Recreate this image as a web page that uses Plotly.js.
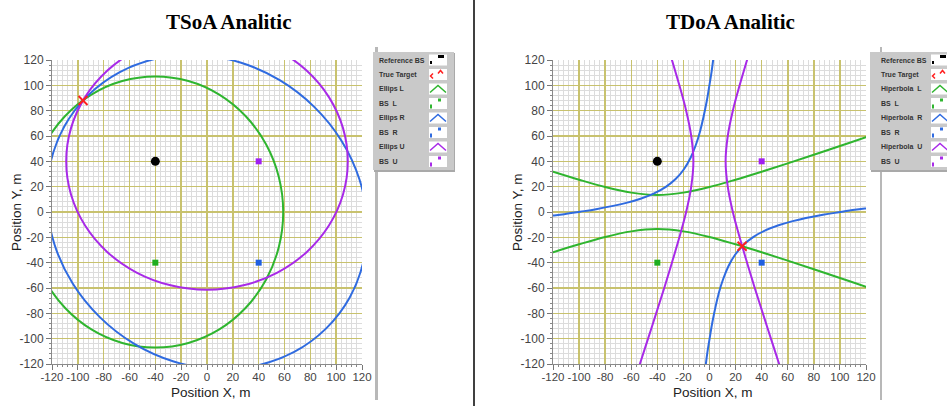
<!DOCTYPE html>
<html><head><meta charset="utf-8">
<script src="https://cdn.plot.ly/plotly-3.0.1.min.js"></script>
<style>html,body{margin:0;padding:0;background:#fff}#chart{width:947px;height:406px}</style>
</head><body><div id="chart"></div><script>
// ---------- data ----------
const tickVals = [-120,-100,-80,-60,-40,-20,0,20,40,60,80,100,120];
const tickText = tickVals.map(v => String(v));

// base stations
const refBS_x = [-40], refBS_y = [40];
const bsL_x = [-40],  bsL_y = [-40];
const bsR_x = [40],   bsR_y = [-40];
const bsU_x = [40],   bsU_y = [40];
// true targets
const tsoaTarget_x = [-96], tsoaTarget_y = [88];
const tdoaTarget_x = [25],  tdoaTarget_y = [-27];

// TSoA ellipses (points along each curve)
const ellipsL_x = [-139,-135.6,-125.7,-110,-89.5,-65.6,-40,-14.4,9.5,30,45.7,55.6,59,55.6,45.7,30,9.5,-14.4,-40,-65.6,-89.5,-110,-125.7,-135.6,-139];
const ellipsL_y = [0,-27.7,-53.5,-75.6,-92.7,-103.4,-107,-103.4,-92.7,-75.6,-53.5,-27.7,0,27.7,53.5,75.6,92.7,103.4,107,103.4,92.7,75.6,53.5,27.7,0];
const ellipsR_x = [123.9,118.0,104.1,83,56.3,25.8,-6.5,-38.3,-67.5,-92.1,-110.5,-121.3,-123.9,-118.0,-104.1,-83,-56.3,-25.8,6.5,38.3,67.5,92.1,110.5,121.3,123.9];
const ellipsR_y = [-6.5,25.8,56.3,83,104.1,118.0,123.9,121.3,110.5,92.1,67.5,38.3,6.5,-25.8,-56.3,-83,-104.1,-118.0,-123.9,-121.3,-110.5,-92.1,-67.5,-38.3,-6.5];
const ellipsU_x = [0,-28.2,-54.5,-77.1,-94.4,-105.3,-109,-105.3,-94.4,-77.1,-54.5,-28.2,0,28.2,54.5,77.1,94.4,105.3,109,105.3,94.4,77.1,54.5,28.2,0];
const ellipsU_y = [141.4,137.9,127.8,111.7,90.7,66.2,40,13.8,-10.7,-31.7,-47.8,-57.9,-61.4,-57.9,-47.8,-31.7,-10.7,13.8,40,66.2,90.7,111.7,127.8,137.9,141.4];

// TDoA hyperbolas (two branches each, split by null)
const hypL_x = [-130,-120,-100,-80,-60,-40,-20,0,20,40,60,80,100,120,130,null,-130,-120,-100,-80,-60,-40,-20,0,20,40,60,80,100,120,130];
const hypL_y = [35.1,31.8,25.5,19.7,15.3,13.5,15.3,19.7,25.5,31.8,38.4,45.2,52.1,59.1,62.6,null,-35.1,-31.8,-25.5,-19.7,-15.3,-13.5,-15.3,-19.7,-25.5,-31.8,-38.4,-45.2,-52.1,-59.1,-62.6];
const hypR_x = [-4.95,-3.3,-1.7,0.2,2.2,7.2,10.5,14.5,19.6,26.0,33.75,42.8,52.9,63.8,87.0,99.2,111.4,124.0,136.5,null,4.95,3.3,1.7,-0.2,-2.2,-7.2,-10.5,-14.5,-19.6,-26.0,-33.75,-42.8,-52.9,-63.8,-87.0,-99.2,-111.4,-124.0,-136.5];
const hypR_y = [-136.5,-124.0,-111.4,-99.2,-87.0,-63.8,-52.9,-42.8,-33.75,-26.0,-19.6,-14.5,-10.5,-7.2,-2.2,-0.2,1.7,3.3,4.95,null,136.5,124.0,111.4,99.2,87.0,63.8,52.9,42.8,33.75,26.0,19.6,14.5,10.5,7.2,2.2,0.2,-1.7,-3.3,-4.95];
const hypU_x = [31.7,28.8,23.1,17.9,14.0,12.35,14.0,17.9,23.1,28.8,34.7,40.9,47.1,53.4,56.5,null,-31.7,-28.8,-23.1,-17.9,-14.0,-12.35,-14.0,-17.9,-23.1,-28.8,-34.7,-40.9,-47.1,-53.4,-56.5];
const hypU_y = [130,120,100,80,60,40,20,0,-20,-40,-60,-80,-100,-120,-130,null,130,120,100,80,60,40,20,0,-20,-40,-60,-80,-100,-120,-130];

const legendLeft  = ['Reference BS','True Target','Ellips L','BS  L','Ellips R','BS  R','Ellips U','BS  U'];
const legendRight = ['Reference BS','True Target','Hiperbola  L','BS  L','Hiperbola  R','BS  R','Hiperbola  U','BS  U'];

// ---------- styling ----------
const W = 947, H = 406;
const GREEN = '#2fb52f', BLUE = '#2f6be0', PURPLE = '#a82ae8', RED = '#ff2020';
const X = px => px / W, Y = py => 1 - py / H;

function curve(xs, ys, color, xa, ya, name) {
  return {x: xs, y: ys, xaxis: xa, yaxis: ya, type: 'scatter', mode: 'lines', name,
    line: {color, width: 2, shape: 'spline', smoothing: 1}, connectgaps: false, hoverinfo: 'skip'};
}
function pts(xs, ys, color, symbol, size, xa, ya, name) {
  const m = {color, symbol, size};
  if (symbol.indexOf('thin') >= 0) m.line = {color, width: 2};
  return {x: xs, y: ys, xaxis: xa, yaxis: ya, type: 'scatter', mode: 'markers', name, marker: m, hoverinfo: 'skip'};
}

const traces = [
  curve(ellipsL_x, ellipsL_y, GREEN, 'x', 'y', 'Ellips L'),
  curve(ellipsR_x, ellipsR_y, BLUE, 'x', 'y', 'Ellips R'),
  curve(ellipsU_x, ellipsU_y, PURPLE, 'x', 'y', 'Ellips U'),
  pts(refBS_x, refBS_y, '#000', 'circle', 9, 'x', 'y', 'Reference BS'),
  pts(bsL_x, bsL_y, '#1fae1f', 'square', 6, 'x', 'y', 'BS L'),
  pts(bsR_x, bsR_y, '#1f5fe0', 'square', 6, 'x', 'y', 'BS R'),
  pts(bsU_x, bsU_y, '#a020f0', 'square', 6, 'x', 'y', 'BS U'),
  pts(tsoaTarget_x, tsoaTarget_y, RED, 'x-thin', 9, 'x', 'y', 'True Target'),

  curve(hypL_x, hypL_y, GREEN, 'x2', 'y2', 'Hiperbola L'),
  curve(hypR_x, hypR_y, BLUE, 'x2', 'y2', 'Hiperbola R'),
  curve(hypU_x, hypU_y, PURPLE, 'x2', 'y2', 'Hiperbola U'),
  pts(refBS_x, refBS_y, '#000', 'circle', 9, 'x2', 'y2', 'Reference BS'),
  pts(bsL_x, bsL_y, '#1fae1f', 'square', 6, 'x2', 'y2', 'BS L'),
  pts(bsR_x, bsR_y, '#1f5fe0', 'square', 6, 'x2', 'y2', 'BS R'),
  pts(bsU_x, bsU_y, '#a020f0', 'square', 6, 'x2', 'y2', 'BS U'),
  pts(tdoaTarget_x, tdoaTarget_y, RED, 'x-thin', 9, 'x2', 'y2', 'True Target')
];

function axis(domain, anchor, isX) {
  const a = {domain, anchor, range: [-120, 120], autorange: false, fixedrange: true,
    tickmode: 'array', tickvals: tickVals, ticktext: tickText, tickangle: 0,
    ticks: 'outside', ticklen: 5, tickcolor: '#777', tickwidth: 1,
    tickfont: {family: 'Liberation Sans, Arial, sans-serif', size: isX ? 11.5 : 12, color: '#444'},
    showgrid: true, gridcolor: 'rgb(200,194,110)', gridwidth: 1.5,
    zeroline: false, showline: true, linecolor: '#8a8a8a', linewidth: 1,
    minor: {dtick: 4, tick0: 0, ticks: 'outside', ticklen: 2, tickcolor: '#888',
            showgrid: true, gridcolor: '#dcdcdc', gridwidth: 1}};
  if (isX) a.ticklabelstandoff = -3;
  return a;
}

const yDom = [Y(364), Y(60)];
const layout = {
  width: W, height: H, margin: {l: 0, r: 0, t: 0, b: 0},
  paper_bgcolor: '#fff', plot_bgcolor: '#fff', showlegend: false,
  xaxis: axis([X(52), X(362)], 'y', true), yaxis: axis(yDom, 'x', false),
  xaxis2: axis([X(553), X(866)], 'y2', true), yaxis2: axis(yDom, 'x2', false),
  annotations: [], shapes: []
};

function ann(text, px, py, o) {
  layout.annotations.push(Object.assign({text, x: X(px), y: Y(py), xref: 'paper', yref: 'paper',
    showarrow: false, xanchor: 'center', yanchor: 'middle'}, o || {}));
}
function rect(x0, y0, x1, y1, fill, line) {
  layout.shapes.push({type: 'rect', xref: 'paper', yref: 'paper', x0: X(x0), x1: X(x1), y0: Y(y1), y1: Y(y0),
    fillcolor: fill, line: line ? {color: line, width: 1} : {width: 0}, layer: 'above'});
}
function path(points, color, width) {
  const d = points.map((p, i) => (i ? 'L' : 'M') + X(p[0]) + ',' + Y(p[1])).join(' ');
  layout.shapes.push({type: 'path', xref: 'paper', yref: 'paper', path: d, line: {color, width}, layer: 'above'});
}
function line(x0, y0, x1, y1, color, width) {
  layout.shapes.push({type: 'line', xref: 'paper', yref: 'paper', x0: X(x0), y0: Y(y0), x1: X(x1), y1: Y(y1),
    line: {color, width}, layer: 'above'});
}

// titles
const titleFont = {family: 'Liberation Serif, Times New Roman, serif', size: 21, color: '#000'};
ann('<b>TSoA Analitic</b>', 228, 22, {font: titleFont});
ann('<b>TDoA Analitic</b>', 730, 22, {font: titleFont});
// axis titles
const axFont = {family: 'Liberation Sans, Arial, sans-serif', size: 13.5, color: '#222'};
ann('Position X, m', 211, 392, {font: axFont});
ann('Position X, m', 713, 392, {font: axFont});
ann('Position Y, m', 16, 212, {font: axFont, textangle: -90});
ann('Position Y, m', 517, 212, {font: axFont, textangle: -90});

// separator and side strips
line(474, 0, 474, 406, '#000', 1.5);
rect(375, 47, 378, 400, '#b8b8b8');
rect(880, 47, 882, 400, '#b8b8b8');

// legends
const rowY = [60, 74.5, 89, 103.5, 118, 132.5, 147, 161.5];
const legColors = [null, RED, GREEN, GREEN, BLUE, BLUE, PURPLE, PURPLE];
function legend(boxX0, boxX1, textX, swX, labels) {
  rect(boxX0 + 1, 53, boxX1 + 1, 172, '#a9a9a9');
  rect(boxX0, 52, boxX1, 170, '#c9c9c9');
  labels.forEach((lab, i) => {
    const cy = rowY[i];
    ann(lab, textX, cy, {xanchor: 'left', font: {family: 'Liberation Sans, Arial, sans-serif', size: 7, color: '#333', weight: 'bold'}});
    rect(swX, cy - 5.5, swX + 18, cy + 5.5, '#ffffff');
    const c = legColors[i];
    if (i === 0) {
      rect(swX + 1, cy + 1, swX + 3, cy + 4, '#000');
      rect(swX + 9, cy - 5, swX + 15, cy - 2, '#000');
    } else if (i === 1) {
      path([[swX + 4, cy - 1], [swX + 1.5, cy + 1.5], [swX + 4, cy + 4]], c, 1.5);
      path([[swX + 9, cy - 1], [swX + 11.5, cy - 4], [swX + 14, cy - 1]], c, 1.5);
    } else if (i % 2 === 0) {
      path([[swX + 1, cy + 3.5], [swX + 9, cy - 3.5], [swX + 17, cy + 3.5]], c, 1.5);
    } else {
      rect(swX + 1, cy + 1, swX + 3, cy + 5, c);
      rect(swX + 9, cy - 5, swX + 12, cy - 2, c);
    }
  });
}
legend(373, 454, 377, 429, legendLeft);
legend(870, 960, 879, 931, legendRight);

Plotly.newPlot('chart', traces, layout, {displayModeBar: false, staticPlot: true});
</script></body></html>
